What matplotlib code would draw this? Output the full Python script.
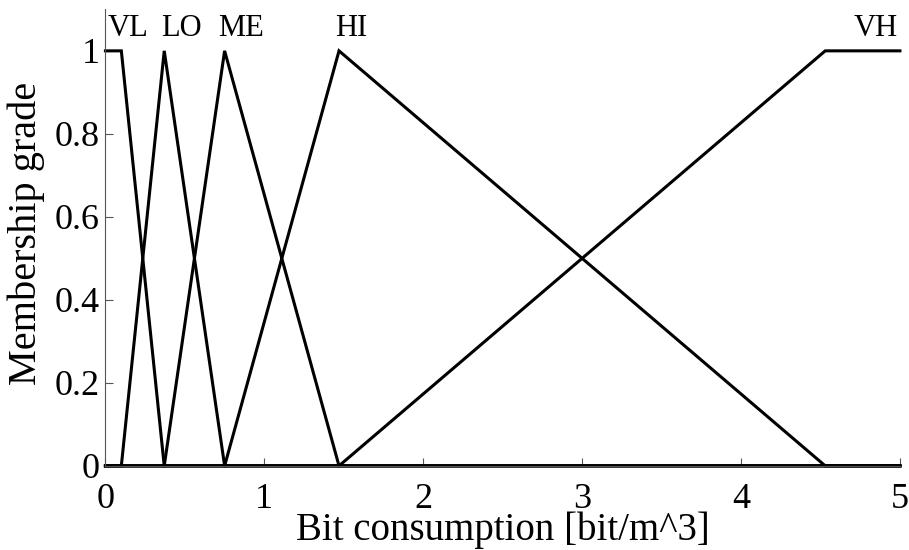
import matplotlib
matplotlib.use('Agg')
import matplotlib.pyplot as plt

# membership function breakpoints
vl_x = [0, 0.1, 0.37, 5]
vl_y = [1, 1, 0, 0]
lo_x = [0, 0.1, 0.37, 0.75, 5]
lo_y = [0, 0, 1, 0, 0]
me_x = [0, 0.37, 0.75, 1.47, 5]
me_y = [0, 0, 1, 0, 0]
hi_x = [0, 0.75, 1.47, 4.53, 5]
hi_y = [0, 0, 1, 0, 0]
vh_x = [0, 1.47, 4.53, 5]
vh_y = [0, 0, 1, 1]

mf_names = ['VL', 'LO', 'ME', 'HI', 'VH']
mf_label_x = [0.14, 0.48, 0.85, 1.55, 4.85]

x_ticks = [0, 1, 2, 3, 4, 5]
y_ticks = [0, 0.2, 0.4, 0.6, 0.8, 1]
y_ticklabels = ['0', '0.2', '0.4', '0.6', '0.8', '1']

plt.rcParams['font.family'] = ['Liberation Serif', 'DejaVu Serif']

fig = plt.figure(figsize=(9.09, 5.5), dpi=100)
ax = fig.add_axes([0.116, 0.153, 0.874, 0.830])

for xs, ys in [(vl_x, vl_y), (lo_x, lo_y), (me_x, me_y), (hi_x, hi_y), (vh_x, vh_y)]:
    ax.plot(xs, ys, color='black', lw=2.2, solid_joinstyle='miter', clip_on=False)

for name, lx in zip(mf_names, mf_label_x):
    ax.text(lx, 1.035, name, ha='center', va='baseline', fontsize=22)

ax.set_xlim(0, 5)
ax.set_ylim(0, 1.1)
ax.set_xticks(x_ticks)
ax.set_xticklabels([str(t) for t in x_ticks])
ax.set_yticks(y_ticks)
ax.set_yticklabels(y_ticklabels)
ax.tick_params(direction='in', length=6, width=0.8, labelsize=26, color='#555555')
ax.tick_params(axis='x', pad=12)
ax.tick_params(axis='y', pad=4)

ax.spines['top'].set_visible(False)
ax.spines['right'].set_visible(False)
ax.spines['left'].set_color('#555555')
ax.spines['bottom'].set_color('#555555')
ax.spines['left'].set_linewidth(0.8)
ax.spines['bottom'].set_linewidth(0.8)

ax.set_xlabel('Bit consumption [bit/m^3]', fontsize=28, labelpad=-3)
ax.set_ylabel('Membership grade', fontsize=29)
ax.yaxis.set_label_coords(-0.076, 0.51)

fig.savefig('out.png', dpi=100)
